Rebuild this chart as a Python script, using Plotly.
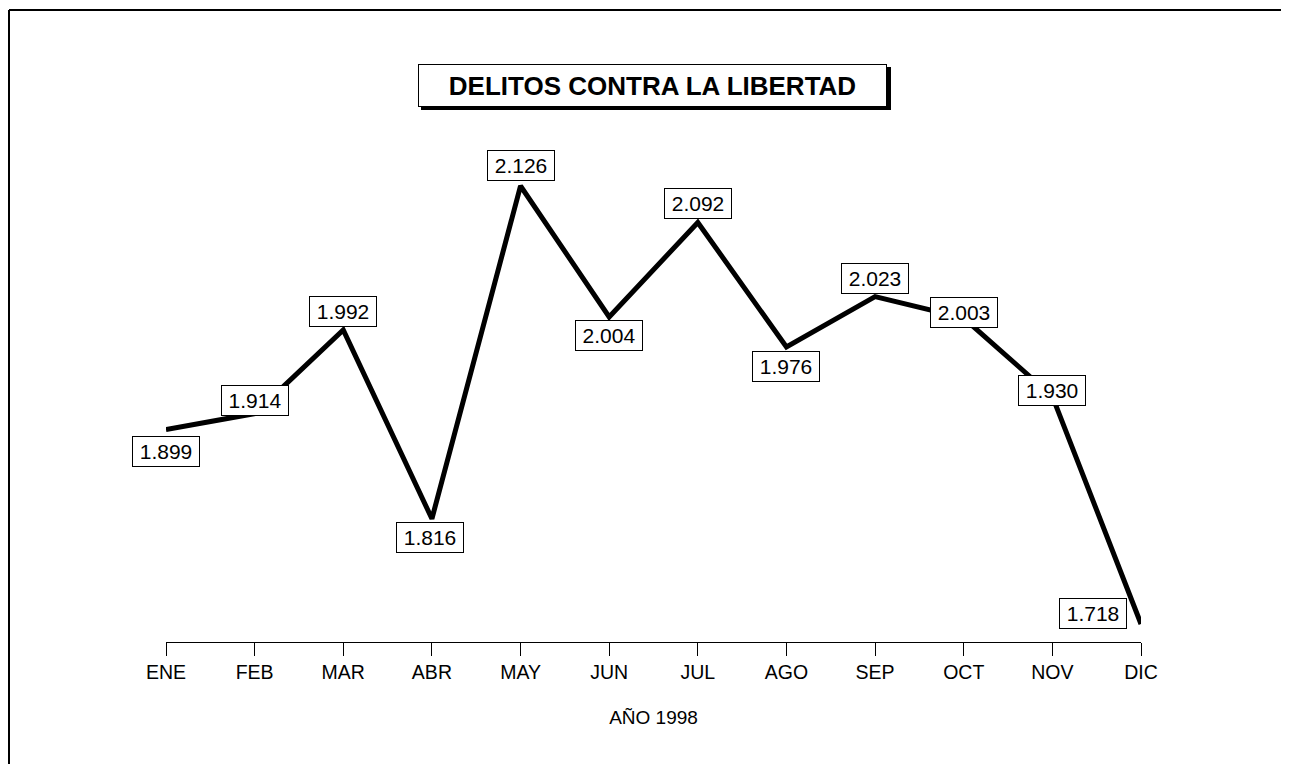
import plotly.graph_objects as go

months = ["ENE", "FEB", "MAR", "ABR", "MAY", "JUN", "JUL", "AGO", "SEP", "OCT", "NOV", "DIC"]
values = [1.899, 1.914, 1.992, 1.816, 2.126, 2.004, 2.092, 1.976, 2.023, 2.003, 1.930, 1.718]
labels = ["1.899", "1.914", "1.992", "1.816", "2.126", "2.004", "2.092", "1.976", "2.023", "2.003", "1.930", "1.718"]
# label offsets in pixels (x, y)
label_dx = [0, 0, 0, -2, 0, 0, 0, 0, 0, 0, 0, -48]
label_dy = [-22, 13, 18, -19, 20, -19, 19, -19, 18, 6, 6, 10]

title_text = "DELITOS CONTRA LA LIBERTAD"
xaxis_title = "AÑO 1998"

FONT = "Liberation Sans, Arial, Helvetica, sans-serif"

# page body has an 8px margin; figure coordinates = screen - 8
OFF = 8
W, H = 1289 - OFF, 764 - OFF
ml, mr, mt, mb = 166 - OFF, 148, 100 - OFF, 122
pw, ph = W - ml - mr, H - mt - mb


def px2paper_x(px):
    return (px - OFF - ml) / pw


def px2paper_y(py):
    return (H - mb - (py - OFF)) / ph


fig = go.Figure()
fig.add_trace(go.Scatter(
    x=list(range(len(months))), y=values, mode="lines",
    line=dict(color="black", width=5), hoverinfo="skip", showlegend=False,
))

annotations = []
for i, (v, t) in enumerate(zip(values, labels)):
    annotations.append(dict(
        x=i, y=v, xref="x", yref="y", text=t, showarrow=False,
        xanchor="center", yanchor="middle",
        xshift=label_dx[i], yshift=label_dy[i],
        width=58, height=21,
        font=dict(family=FONT, size=21, color="black"),
        bgcolor="white", bordercolor="black", borderwidth=1, borderpad=4,
    ))

annotations.append(dict(
    x=px2paper_x(652.5), y=px2paper_y(85.5), xref="paper", yref="paper",
    xanchor="center", yanchor="middle",
    text="<b>" + title_text + "</b>", showarrow=False,
    width=465, height=39,
    font=dict(family=FONT, size=26, color="black"),
    bgcolor="white", bordercolor="black", borderwidth=1, borderpad=1,
))

shapes = [
    # title shadow
    dict(type="rect", xref="paper", yref="paper", layer="below",
         x0=px2paper_x(421), x1=px2paper_x(891), y0=px2paper_y(67), y1=px2paper_y(110),
         fillcolor="black", line=dict(width=0)),
    # frame
    dict(type="line", xref="paper", yref="paper",
         x0=px2paper_x(9), y0=px2paper_y(10), x1=px2paper_x(9), y1=px2paper_y(780),
         line=dict(color="black", width=2)),
    dict(type="line", xref="paper", yref="paper",
         x0=px2paper_x(9), y0=px2paper_y(10), x1=px2paper_x(1300), y1=px2paper_y(10),
         line=dict(color="black", width=2)),
]

ybottom = 1.7012
scale = 1073.5
fig.update_layout(
    width=W, height=H,
    margin=dict(l=ml, r=mr, t=mt, b=mb, pad=0),
    paper_bgcolor="white", plot_bgcolor="white",
    font=dict(family=FONT, size=19, color="black"),
    annotations=annotations, shapes=shapes,
    xaxis=dict(
        range=[0, len(months) - 1], tickmode="array",
        tickvals=list(range(len(months))), ticktext=months,
        showline=True, linecolor="black", linewidth=1,
        ticks="outside", ticklen=13, tickcolor="black", tickwidth=1,
        showgrid=False, zeroline=False,
        tickfont=dict(family=FONT, size=19.5, color="black"),
        title=dict(text=xaxis_title, font=dict(family=FONT, size=19, color="black"), standoff=28),
    ),
    yaxis=dict(
        range=[ybottom, ybottom + ph / scale], visible=False,
        showgrid=False, zeroline=False,
    ),
)

fig.write_html("out.html")
